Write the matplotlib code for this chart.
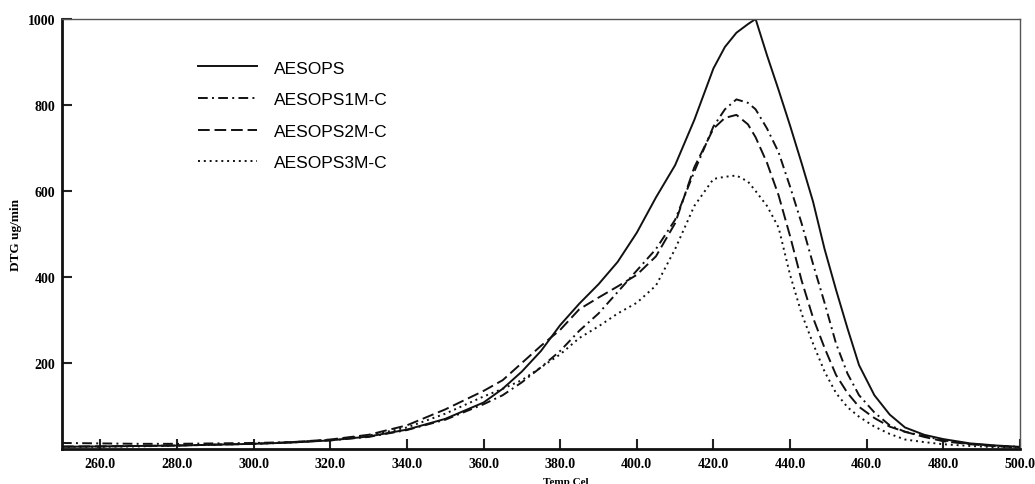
import matplotlib
matplotlib.use("Agg")
import matplotlib.pyplot as plt

# temperature grid (Cel) shared by all curves
temp = [250, 260, 270, 280, 290, 300, 310, 320, 330, 340, 350, 360, 365, 370, 375,
        380, 385, 390, 395, 400, 405, 410, 415, 420, 423, 426, 429, 431, 434, 437,
        440, 443, 446, 449, 452, 455, 458, 462, 466, 470, 475, 480, 487, 494, 500]

# DTG ug/min
aesops = [5, 6, 7, 8, 10, 12, 15, 20, 29, 45, 70, 108, 140, 180, 228,
          288, 338, 383, 435, 503, 585, 660, 765, 885, 935, 968, 988, 1000, 915, 835,
          752, 665, 575, 465, 370, 280, 195, 125, 80, 50, 33, 23, 13, 8, 5]
aesops1m = [14, 13, 12, 12, 13, 14, 16, 20, 28, 44, 68, 104, 125, 155, 190,
            228, 275, 315, 365, 415, 465, 533, 645, 750, 790, 813, 805, 790, 745, 690,
            610, 525, 430, 340, 245, 175, 125, 85, 55, 40, 30, 20, 12, 7, 5]
aesops2m = [6, 6, 7, 8, 10, 12, 16, 22, 33, 55, 92, 135, 160, 200, 240,
            277, 325, 352, 378, 405, 448, 525, 655, 745, 770, 777, 755, 725, 665, 590,
            495, 392, 305, 235, 172, 130, 98, 72, 52, 40, 28, 18, 11, 6, 4]
aesops3m = [5, 5, 6, 8, 10, 12, 15, 21, 31, 50, 82, 122, 140, 160, 190,
            220, 258, 285, 315, 340, 380, 465, 565, 628, 633, 636, 622, 600, 565, 515,
            405, 315, 245, 180, 130, 97, 75, 52, 35, 22, 16, 11, 7, 4, 3]

labels = ["AESOPS", "AESOPS1M-C", "AESOPS2M-C", "AESOPS3M-C"]
styles = ["-", (0, (5, 2.2, 1, 2.2)), (0, (6, 2.5)), (0, (1, 2))]

xticks = [260, 280, 300, 320, 340, 360, 380, 400, 420, 440, 460, 480, 500]
yticks = [200, 400, 600, 800, 1000]

fig = plt.figure(figsize=(10.35, 4.85), dpi=100)
ax = fig.add_axes([0.0599, 0.0722, 0.9256, 0.8866])

for vals, lab, ls in zip([aesops, aesops1m, aesops2m, aesops3m], labels, styles):
    ax.plot(temp, vals, color="#111111", lw=1.4, linestyle=ls, label=lab)

ax.set_xlim(250, 500)
ax.set_ylim(0, 1000)
ax.set_xticks(xticks)
ax.set_xticklabels(["%.1f" % t for t in xticks])
ax.set_yticks(yticks)

for lbl in ax.get_xticklabels() + ax.get_yticklabels():
    lbl.set_fontfamily("Liberation Serif")
    lbl.set_fontweight("bold")
    lbl.set_fontsize(10)
ax.tick_params(axis="both", direction="in", length=7, width=1.5, color="#222222")
ax.tick_params(axis="x", pad=6)
ax.tick_params(axis="y", pad=5)

for side in ["left", "bottom"]:
    ax.spines[side].set_linewidth(2)
    ax.spines[side].set_color("#111111")
for side in ["top", "right"]:
    ax.spines[side].set_linewidth(1)
    ax.spines[side].set_color("#555555")

ax.set_ylabel("DTG ug/min", family="Liberation Serif", weight="bold", fontsize=9.5, labelpad=4)
ax.set_xlabel("Temp Cel", family="Liberation Serif", weight="bold", fontsize=8, labelpad=1)
ax.xaxis.set_label_coords(0.526, -0.065)

leg = ax.legend(loc="upper left", bbox_to_anchor=(0.126, 0.94), frameon=False,
                handlelength=3.4, handletextpad=0.95, labelspacing=0.95,
                prop=dict(family="Liberation Sans", size=12.5))

fig.savefig("out.png", dpi=100)
